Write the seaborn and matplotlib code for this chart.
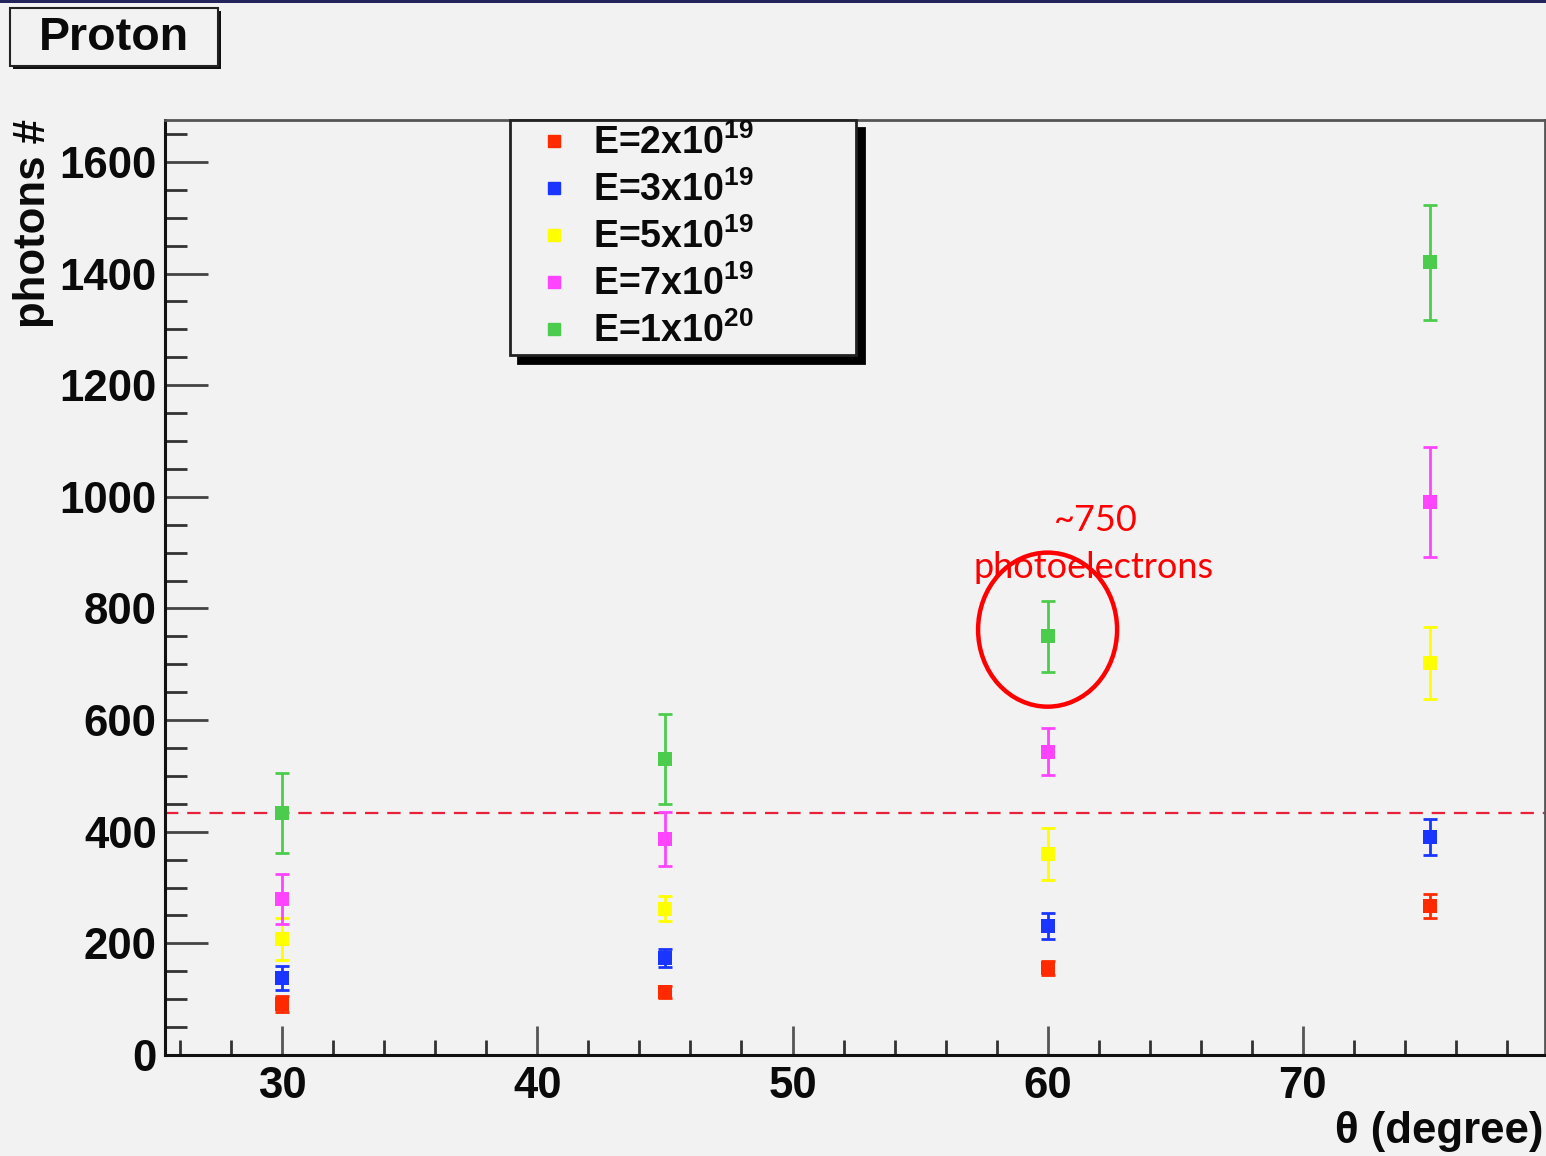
import matplotlib
matplotlib.use("Agg")
import matplotlib.pyplot as plt
from matplotlib.patches import Ellipse, Rectangle
from matplotlib.lines import Line2D
from matplotlib.ticker import MultipleLocator
import seaborn as sns
import pandas as pd

# Zenith angle of the shower (degrees)
theta = [30, 45, 60, 75]

# Number of photons per primary energy, with their uncertainties
labels = ["E=2x10$^{19}$", "E=3x10$^{19}$", "E=5x10$^{19}$", "E=7x10$^{19}$", "E=1x10$^{20}$"]
photons_2e19 = [91, 113, 156, 267]
photons_3e19 = [138, 174, 231, 391]
photons_5e19 = [208, 262, 360, 702]
photons_7e19 = [280, 387, 543, 991]
photons_1e20 = [434, 530, 750, 1420]
err_2e19 = [14, 11, 12, 21]
err_3e19 = [21, 16, 24, 32]
err_5e19 = [38, 22, 47, 65]
err_7e19 = [45, 48, 42, 98]
err_1e20 = [72, 81, 64, 103]

colors = ["#ff2a00", "#1a35ff", "#ffff00", "#ff44ff", "#4ccc4c"]
threshold = 434

series = [photons_2e19, photons_3e19, photons_5e19, photons_7e19, photons_1e20]
errors = [err_2e19, err_3e19, err_5e19, err_7e19, err_1e20]

rows = []
for lab, vals, errs in zip(labels, series, errors):
    for t, v, e in zip(theta, vals, errs):
        rows.append({"theta": t, "photons": v, "err": e, "energy": lab})
df = pd.DataFrame(rows)

sns.set_theme(style="white")
bg = "#f2f2f2"
ink = "#0a0a0a"
plt.rcParams["font.family"] = ["Liberation Sans", "DejaVu Sans"]
plt.rcParams["font.weight"] = "bold"
plt.rcParams["text.color"] = ink
plt.rcParams["xtick.labelcolor"] = ink
plt.rcParams["ytick.labelcolor"] = ink
plt.rcParams["mathtext.fontset"] = "custom"
plt.rcParams["mathtext.default"] = "bf"
plt.rcParams["mathtext.bf"] = "Liberation Sans:bold"
plt.rcParams["mathtext.rm"] = "Liberation Sans:bold"

W, H = 1546, 1156
fig = plt.figure(figsize=(W / 100, H / 100), dpi=100, facecolor=bg)
ax = fig.add_axes([165 / W, 1 - 1055 / H, 1380 / W, 935 / H])
ax.set_facecolor(bg)

# error bars for each energy
for lab, col in zip(labels, colors):
    sub = df[df["energy"] == lab]
    ax.errorbar(sub["theta"], sub["photons"], yerr=sub["err"], fmt="none",
                ecolor=col, elinewidth=2.0, capsize=4.7, capthick=2.0, zorder=3)

sns.scatterplot(data=df, x="theta", y="photons", hue="energy", hue_order=labels,
                palette=colors, marker="s", s=100, linewidth=0, legend=False,
                ax=ax, zorder=4)

ax.axhline(threshold, color="#e8203a", lw=1.6, dashes=(6, 4), zorder=2)

ax.set_xlim(25.4, 79.5)
ax.set_ylim(0, 1675)
ax.xaxis.set_major_locator(MultipleLocator(10))
ax.xaxis.set_minor_locator(MultipleLocator(2))
ax.yaxis.set_major_locator(MultipleLocator(200))
ax.yaxis.set_minor_locator(MultipleLocator(50))
ax.tick_params(which="both", bottom=True, left=True, top=False, right=False)
ax.tick_params(axis="y", which="major", direction="in", length=31, width=2,
               color="#444444", labelsize=31.5, pad=6, labelcolor=ink)
ax.tick_params(axis="y", which="minor", direction="in", length=16, width=2,
               color="#333333")
ax.tick_params(axis="x", which="major", direction="in", length=21, width=2,
               color="#555555", labelsize=31.5, pad=8, labelcolor=ink)
ax.tick_params(axis="x", which="minor", direction="in", length=11, width=2,
               color="#333333")
for lab in ax.get_xticklabels() + ax.get_yticklabels():
    lab.set_fontweight("bold")
ax.set_xlabel("")
ax.set_ylabel("")
for side in ["left", "bottom"]:
    ax.spines[side].set_color("#111111")
    ax.spines[side].set_linewidth(2.2)
for side in ["top", "right"]:
    ax.spines[side].set_color("#555555")
    ax.spines[side].set_linewidth(2.0)

# axis titles, ROOT-style placement
fig.text(1543 / W, 1 - 1132 / H, "\u03b8 (degree)", ha="right", va="center",
         fontsize=31.5, fontweight="bold", color=ink)
fig.text(34 / W, 1 - 119 / H, "photons #", ha="center", va="top", rotation=90,
         fontsize=31.5, fontweight="bold", color=ink)

# legend with drop shadow
handles = [Line2D([], [], ls="none", marker="s", ms=9, color=c, mec=c) for c in colors]
leg = ax.legend(handles, labels, loc="upper left",
                bbox_to_anchor=(345 / 1380, 0, 346 / 1380, 1.0), mode="expand",
                borderaxespad=0, fontsize=27, frameon=True, fancybox=False,
                handlelength=2.1, handletextpad=0.0, borderpad=0.12,
                labelspacing=0.25, labelcolor=ink,
                shadow={"ox": 6, "oy": -6, "color": "black", "alpha": 1})
leg.get_frame().set_facecolor(bg)
leg.get_frame().set_edgecolor("#222222")
leg.get_frame().set_linewidth(2)
leg.set_zorder(10)

# annotation of the 60 degree, 1e20 point
ax.add_patch(Ellipse((60, 762), width=5.45, height=276, fill=False,
                     edgecolor="#ff0000", lw=3.2, zorder=6))
ax.text(61.9, 957, "~750", color="#ff0000", fontsize=26, ha="center",
        va="center", fontweight="normal", family=["Lato", "DejaVu Sans"], zorder=7)
ax.text(61.8, 874, "photoelectrons", color="#ff0000", fontsize=26, ha="center",
        va="center", fontweight="normal", family=["Lato", "DejaVu Sans"], zorder=7)

# title box
fig.patches.append(Rectangle((13 / W, 1 - 69 / H), 208 / W, 58 / H,
                             transform=fig.transFigure, facecolor="#111111",
                             edgecolor="none", zorder=1))
fig.patches.append(Rectangle((10 / W, 1 - 66 / H), 208 / W, 58 / H,
                             transform=fig.transFigure, facecolor=bg,
                             edgecolor="#222222", lw=1.5, zorder=2))
fig.text(114 / W, 1 - 38 / H, "Proton", ha="center", va="center", fontsize=33.5,
         fontweight="bold", color=ink, zorder=3)

# thin navy strip along the top edge
fig.patches.append(Rectangle((0, 1 - 2.5 / H), 1, 2.5 / H, transform=fig.transFigure,
                             facecolor="#23235e", edgecolor="none", zorder=5))

fig.savefig("out.png", dpi=100, facecolor=bg)
